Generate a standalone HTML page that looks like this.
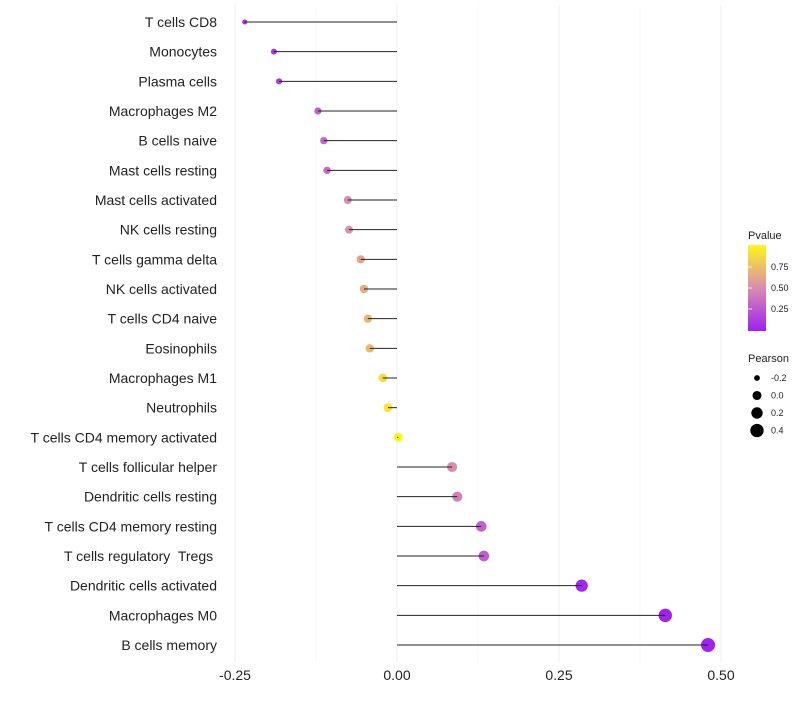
<!DOCTYPE html>
<html><head><meta charset="utf-8"><style>
body{margin:0;background:#fff;font-family:"Liberation Sans",sans-serif}
svg text{font-family:"Liberation Sans",sans-serif;white-space:pre}
</style></head><body>
<svg id="chart" width="800" height="700">
<defs><linearGradient id="pg" x1="0" y1="1" x2="0" y2="0">
<stop offset="0" stop-color="#a020f0"/><stop offset="0.5" stop-color="#d98cb0"/><stop offset="1" stop-color="#fff51a"/>
</linearGradient></defs>
<g id="grid"></g><g id="dots"></g><g id="marks"></g><g id="labels"></g><g id="legend"></g>
</svg>
<script>
const categories=["T cells CD8","Monocytes","Plasma cells","Macrophages M2","B cells naive","Mast cells resting","Mast cells activated","NK cells resting","T cells gamma delta","NK cells activated","T cells CD4 naive","Eosinophils","Macrophages M1","Neutrophils","T cells CD4 memory activated","T cells follicular helper","Dendritic cells resting","T cells CD4 memory resting","T cells regulatory  Tregs ","Dendritic cells activated","Macrophages M0","B cells memory"];
const pearson=[-0.235,-0.19,-0.182,-0.122,-0.113,-0.108,-0.076,-0.074,-0.056,-0.051,-0.045,-0.042,-0.022,-0.014,0.002,0.085,0.093,0.13,0.134,0.285,0.414,0.48];
const pvalues=[0.05,0.1,0.12,0.3,0.32,0.35,0.5,0.52,0.62,0.65,0.7,0.72,0.88,0.92,0.99,0.5,0.45,0.3,0.28,0.03,0.01,0.005];
const xTicks=[-0.25,0,0.25,0.5];
const xTickLabels=["-0.25","0.00","0.25","0.50"];
const sizeLegend=[-0.2,0,0.2,0.4];
const pTicks=[0.25,0.5,0.75];
const NS="http://www.w3.org/2000/svg";
function mk(t,a,p){const e=document.createElementNS(NS,t);for(const k in a)e.setAttribute(k,a[k]);p.appendChild(e);return e;}
const x=v=>397+v*648;
const y=i=>22+i*(623/(categories.length-1));
const r=v=>Math.sqrt(Math.max(3,20.4+60*v));
function lerp(a,b,t){return a.map((c,i)=>Math.round(c+(b[i]-c)*t));}
function col(p){const s=[[160,32,240],[217,140,176],[255,245,26]];const c=p<0.5?lerp(s[0],s[1],p/0.5):lerp(s[1],s[2],(p-0.5)/0.5);return`rgb(${c})`;}
const grid=document.getElementById('grid'),dots=document.getElementById('dots'),marks=document.getElementById('marks'),labels=document.getElementById('labels'),leg=document.getElementById('legend');
[-0.125,0.125,0.375].forEach(v=>{const l=mk('line',{x1:x(v),x2:x(v),y1:5,y2:662,stroke:'#f5f5f5','stroke-width':0.6},grid);});
xTicks.forEach((v,i)=>{const l=mk('line',{x1:x(v),x2:x(v),y1:5,y2:662,stroke:'#efefef','stroke-width':1},grid);
const t=mk('text',{x:x(v),y:680,'text-anchor':'middle','font-size':14,fill:'#222'},labels);t.textContent=xTickLabels[i];});
categories.forEach((c,i)=>{const yy=y(i);
const d=mk('circle',{cx:x(pearson[i]),cy:yy,r:r(pearson[i]),fill:col(pvalues[i])},dots);
const s=mk('line',{x1:x(0),x2:x(pearson[i]),y1:yy,y2:yy,stroke:'#222','stroke-width':1},marks);
const t=mk('text',{x:217,y:yy+5,'text-anchor':'end','font-size':14,fill:'#222'},labels);t.textContent=c;});
let t=mk('text',{x:748,y:239,'font-size':11,fill:'#222'},leg);t.textContent='Pvalue';
const bar=mk('rect',{x:748,y:245,width:18,height:86,fill:'url(#pg)'},leg);
pTicks.forEach(p=>{const yy=330-p*84;const tk=mk('line',{x1:748,x2:752,y1:yy,y2:yy,stroke:'#fff','stroke-width':0.8},leg);
const tx=mk('text',{x:771,y:yy+3,'font-size':9,fill:'#222'},leg);tx.textContent=p.toFixed(2);});
t=mk('text',{x:748,y:362,'font-size':11,fill:'#222'},leg);t.textContent='Pearson';
sizeLegend.forEach((v,i)=>{const yy=378+i*17.5;const c=mk('circle',{cx:757,cy:yy,r:r(v),fill:'#000'},leg);
const tx=mk('text',{x:771,y:yy+3,'font-size':9,fill:'#222'},leg);tx.textContent=v.toFixed(1);});
</script>
</body></html>
